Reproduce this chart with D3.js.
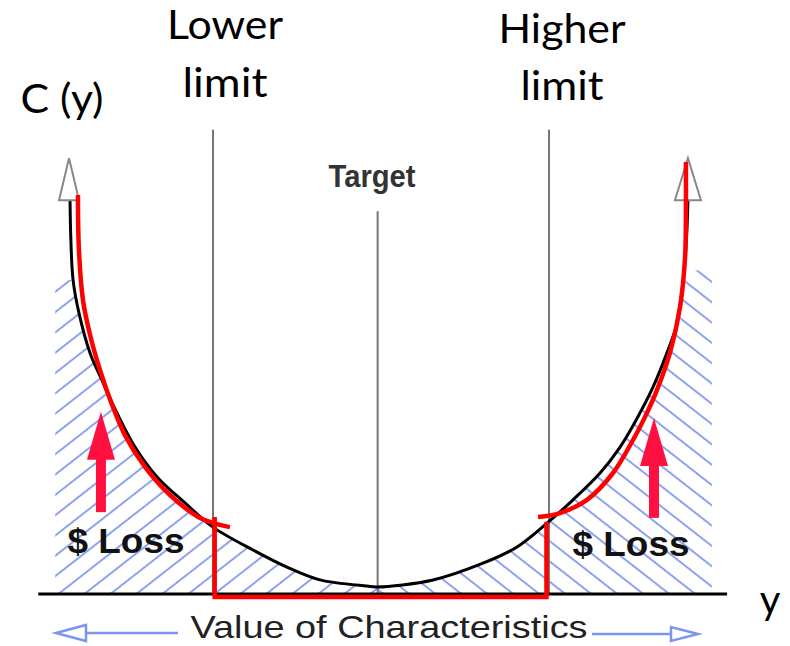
<!DOCTYPE html>
<html>
<head>
<meta charset="utf-8">
<script src="https://cdn.jsdelivr.net/npm/d3@7"></script>
<style>
  html, body { margin: 0; padding: 0; background: #fff; }
  svg { display: block; }
</style>
</head>
<body>
<script>
// ---------- DATA ----------
// Quality loss curve C(y) (black), x in "value of characteristic" units, y in cost units
const lossCurveX = [-1.851, -1.846, -1.833, -1.798, -1.732, -1.661, -1.571, -1.464, -1.333, -1.167, -1.0, -0.762, -0.56, -0.363, -0.083, -0.024, 0.31, 0.607, 0.81, 0.988, 1.143, 1.304, 1.423, 1.518, 1.619, 1.702, 1.756, 1.792, 1.81, 1.821, 1.827];
const lossCurveY = [8.95, 8.05, 7.14, 6.39, 5.48, 4.86, 4.11, 3.34, 2.66, 2.07, 1.52, 1.00, 0.61, 0.32, 0.18, 0.16, 0.32, 0.70, 1.07, 1.61, 2.14, 2.75, 3.34, 3.95, 4.70, 5.48, 6.07, 6.91, 7.59, 8.27, 8.95];
// Red overlay (left branch)
const redLeftX = [-1.804, -1.798, -1.774, -1.732, -1.673, -1.601, -1.524, -1.405, -1.256, -1.077, -0.899];
const redLeftY = [9.07, 7.82, 6.68, 5.89, 5.09, 4.30, 3.61, 2.89, 2.25, 1.73, 1.52];
// Red overlay (right branch)
const redRightX = [0.935, 1.065, 1.226, 1.381, 1.50, 1.571, 1.643, 1.72, 1.78, 1.81, 1.815, 1.815];
const redRightY = [1.75, 1.84, 2.14, 2.75, 3.50, 4.02, 4.64, 5.48, 6.52, 7.66, 8.80, 9.82];
// Red step (zero loss inside the limits)
const stepX = [-0.99, -0.99, 0.985, 0.985];
const stepY = [1.75, -0.07, -0.07, 1.64];
// Specification limits and target
const limitValues = [-1, 1];
const limitLabels = [["Lower", "limit"], ["Higher", "limit"]];
const limitTop = 10.55;
const targetValue = -0.02;
const targetTop = 8.70;
const targetLabel = "Target";
// Hatched "$ Loss" zones
const zoneEdges = [-1.94, 1.97];
const zoneTops = [7.14, 7.36];
const lossLabel = "$ Loss";
const lossArrowX = [-1.667, 1.625];
const lossArrowBase = [1.86, 1.73];
const lossArrowTip = [4.14, 4.00];
// Axis labels
const yAxisLabel = "C (y)";
const xAxisLabel = "y";
const xCaption = "Value of Characteristics";
const axisExtent = [-2.04, 2.06];

// ---------- SETUP ----------
const W = 790, H = 646;
const x = d3.scaleLinear().domain([-2, 2]).range([45, 717]);
const y = d3.scaleLinear().domain([0, 10]).range([594, 154]);

const svg = d3.select("body").append("svg")
  .attr("width", W).attr("height", H)
  .attr("viewBox", `0 0 ${W} ${H}`);
svg.append("rect").attr("width", W).attr("height", H).attr("fill", "#fff");

const defs = svg.append("defs");
const hatchColor = "#8ea2f0";
[["hatchL", -38], ["hatchR", 38]].forEach(([id, ang]) => {
  const p = defs.append("pattern").attr("id", id)
    .attr("patternUnits", "userSpaceOnUse")
    .attr("width", 40).attr("height", 16)
    .attr("patternTransform", `rotate(${ang})`);
  p.append("line").attr("x1", 0).attr("x2", 40).attr("y1", 8).attr("y2", 8)
    .attr("stroke", hatchColor).attr("stroke-width", 2);
});

const curvePts = lossCurveX.map((v, i) => [v, lossCurveY[i]]);
const smooth = d3.curveCatmullRom.alpha(0.5);
const line = d3.line().x(d => x(d[0])).y(d => y(d[1])).curve(smooth);
const area = d3.area().x(d => x(d[0])).y0(y(0)).y1(d => y(d[1])).curve(smooth);

// clip: union of area under curve and outer strips
const cu = defs.append("clipPath").attr("id", "underCurve");
cu.append("path").attr("d", area(curvePts));
cu.append("rect").attr("x", x(zoneEdges[0])).attr("y", y(10)).attr("width", x(lossCurveX[0]) - x(zoneEdges[0]) + 2).attr("height", y(0) - y(10));
cu.append("rect").attr("x", x(lossCurveX[lossCurveX.length - 1]) - 2).attr("y", y(10)).attr("width", x(zoneEdges[1]) - x(lossCurveX[lossCurveX.length - 1]) + 2).attr("height", y(0) - y(10));

const sides = [
  { id: "zoneL", x0: zoneEdges[0], x1: targetValue, top: zoneTops[0], pat: "hatchL" },
  { id: "zoneR", x0: targetValue, x1: zoneEdges[1], top: zoneTops[1], pat: "hatchR" }
];
sides.forEach(s => {
  defs.append("clipPath").attr("id", s.id).append("rect")
    .attr("x", x(s.x0)).attr("y", y(s.top))
    .attr("width", x(s.x1) - x(s.x0)).attr("height", y(0) - y(s.top));
  svg.append("g").attr("clip-path", `url(#${s.id})`)
    .append("g").attr("clip-path", "url(#underCurve)")
    .append("rect").attr("x", x(s.x0)).attr("y", y(s.top))
    .attr("width", x(s.x1) - x(s.x0)).attr("height", y(0) - y(s.top))
    .attr("fill", `url(#${s.pat})`);
});

// ---------- vertical reference lines ----------
svg.selectAll(".limit").data(limitValues).join("line")
  .attr("x1", d => x(d)).attr("x2", d => x(d))
  .attr("y1", y(limitTop)).attr("y2", y(0))
  .attr("stroke", "#777").attr("stroke-width", 2);
svg.append("line")
  .attr("x1", x(targetValue)).attr("x2", x(targetValue))
  .attr("y1", y(targetTop)).attr("y2", y(0))
  .attr("stroke", "#777").attr("stroke-width", 2);

// ---------- baseline ----------
svg.append("line")
  .attr("x1", x(axisExtent[0])).attr("x2", x(axisExtent[1]))
  .attr("y1", y(0)).attr("y2", y(0))
  .attr("stroke", "#000").attr("stroke-width", 3);

// ---------- black loss curve ----------
svg.append("path").attr("d", line(curvePts))
  .attr("fill", "none").attr("stroke", "#000").attr("stroke-width", 3);

// hollow arrowheads at curve ends
[curvePts[0], curvePts[curvePts.length - 1]].forEach((p, i) => {
  const px = x(p[0]) + (i === 0 ? -1 : 0), py = y(p[1]);
  const hw = i === 0 ? 10 : 13;
  svg.append("path")
    .attr("d", `M${px - hw},${py} L${px + hw},${py} L${px},${py - 42} Z`)
    .attr("fill", "#fff").attr("stroke", "#888").attr("stroke-width", 2)
    .attr("stroke-linejoin", "miter");
});

// ---------- red overlays ----------
const red = "#ff0000";
svg.append("path").attr("d", line(redLeftX.map((v, i) => [v, redLeftY[i]])))
  .attr("fill", "none").attr("stroke", red).attr("stroke-width", 4.5).attr("stroke-linecap", "butt");
svg.append("path").attr("d", line(redRightX.map((v, i) => [v, redRightY[i]])))
  .attr("fill", "none").attr("stroke", red).attr("stroke-width", 4.5).attr("stroke-linecap", "butt");
svg.append("path").attr("d", d3.line().x(d => x(d[0])).y(d => y(d[1]))(stepX.map((v, i) => [v, stepY[i]])))
  .attr("fill", "none").attr("stroke", red).attr("stroke-width", 4.5).attr("stroke-linejoin", "miter");

// red loss arrows
const arrowRed = "#ff1040";
lossArrowX.forEach((ax, i) => {
  const cx = x(ax), yb = y(lossArrowBase[i]), yt = y(lossArrowTip[i]);
  const yh = yt + 48;
  svg.append("rect").attr("x", cx - 5).attr("y", yh - 1).attr("width", 10).attr("height", yb - yh + 1).attr("fill", arrowRed);
  svg.append("path").attr("d", `M${cx - 14},${yh} L${cx + 14},${yh} L${cx},${yt} Z`).attr("fill", arrowRed);
});

// ---------- texts ----------
const calibri = "Lato, 'Open Sans', sans-serif";
const arial = "'Liberation Sans', Arial, sans-serif";

const limitLabelPos = [{ cx: 225, b1: 39, b2: 97, w1: 116, w2: 85 }, { cx: 562, b1: 43, b2: 100, w1: 127, w2: 83 }];
limitLabels.forEach((lbl, i) => {
  const p = limitLabelPos[i];
  svg.append("text").attr("x", p.cx).attr("y", p.b1).attr("text-anchor", "middle")
    .attr("font-family", calibri).attr("font-size", 40).attr("fill", "#000")
    .attr("textLength", p.w1).attr("lengthAdjust", "spacingAndGlyphs").text(lbl[0]);
  svg.append("text").attr("x", p.cx).attr("y", p.b2).attr("text-anchor", "middle")
    .attr("font-family", calibri).attr("font-size", 40).attr("fill", "#000")
    .attr("textLength", p.w2).attr("lengthAdjust", "spacingAndGlyphs").text(lbl[1]);
});

svg.append("text").attr("x", 62).attr("y", 113).attr("text-anchor", "middle")
  .attr("font-family", calibri).attr("font-size", 40).attr("fill", "#000")
  .attr("textLength", 83).attr("lengthAdjust", "spacingAndGlyphs").text(yAxisLabel);

svg.append("text").attr("x", 770).attr("y", 614).attr("text-anchor", "middle")
  .attr("font-family", calibri).attr("font-size", 40).attr("fill", "#000").text(xAxisLabel);

svg.append("text").attr("x", 372).attr("y", 187).attr("text-anchor", "middle")
  .attr("font-family", arial).attr("font-size", 31).attr("font-weight", "bold").attr("fill", "#333")
  .attr("textLength", 87).attr("lengthAdjust", "spacingAndGlyphs").text(targetLabel);

[{ cx: 126, b: 553 }, { cx: 631, b: 556 }].forEach(p => {
  svg.append("text").attr("x", p.cx).attr("y", p.b).attr("text-anchor", "middle")
    .attr("font-family", arial).attr("font-size", 35).attr("font-weight", "bold").attr("fill", "#111")
    .attr("textLength", 117).attr("lengthAdjust", "spacingAndGlyphs").text(lossLabel);
});

svg.append("text").attr("x", 389).attr("y", 638).attr("text-anchor", "middle")
  .attr("font-family", arial).attr("font-size", 32).attr("fill", "#222")
  .attr("textLength", 397).attr("lengthAdjust", "spacingAndGlyphs").text(xCaption);

// blue caption arrows
const blue = "#7c95ec";
svg.append("line").attr("x1", 87).attr("x2", 178).attr("y1", 633).attr("y2", 633).attr("stroke", blue).attr("stroke-width", 2.5);
svg.append("path").attr("d", "M56,633 L86,625 L86,641 Z").attr("fill", "#fff").attr("stroke", blue).attr("stroke-width", 2.5);
svg.append("line").attr("x1", 592).attr("x2", 671).attr("y1", 634).attr("y2", 634).attr("stroke", blue).attr("stroke-width", 2.5);
svg.append("path").attr("d", "M698,634 L671,627 L671,641 Z").attr("fill", "#fff").attr("stroke", blue).attr("stroke-width", 2.5);
</script>
</body>
</html>
